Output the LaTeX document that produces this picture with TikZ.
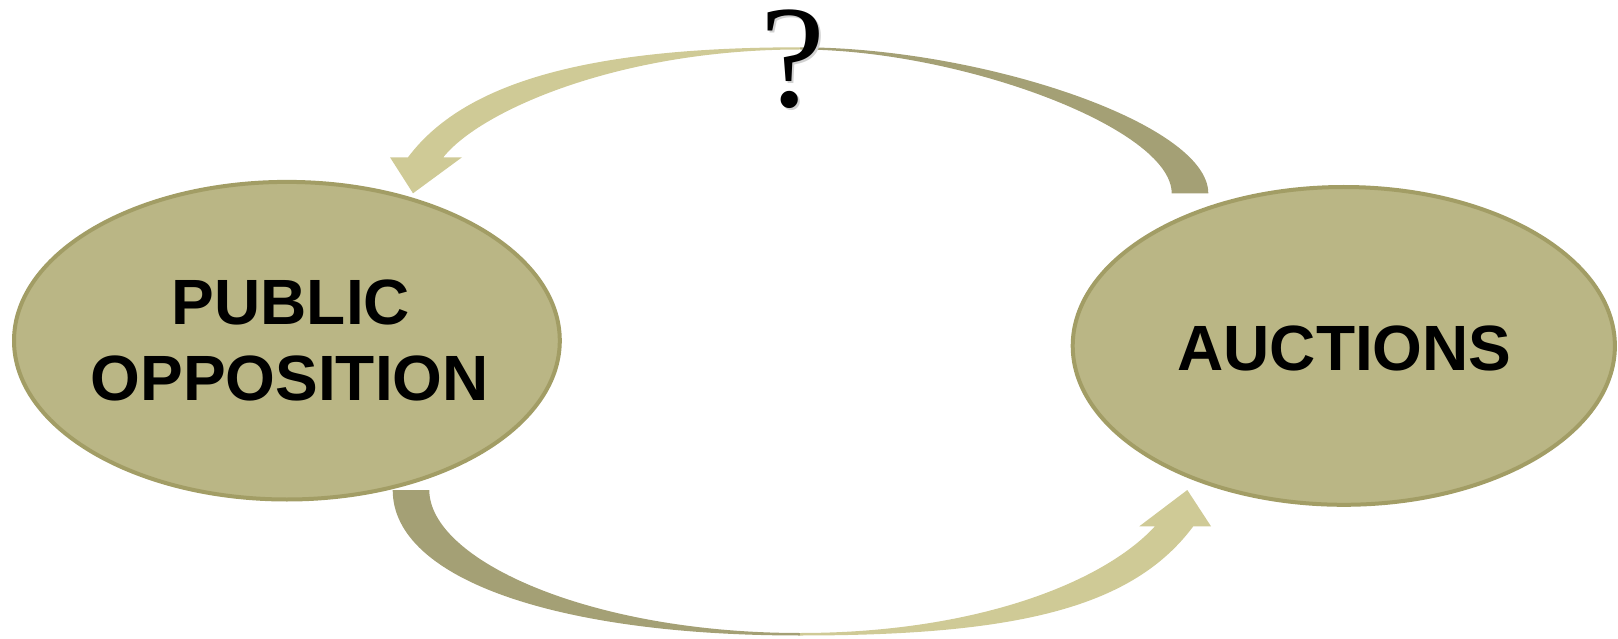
\documentclass[tikz,border=0pt]{standalone}
\usepackage{fontspec}
\setmainfont{Liberation Serif}
\newfontfamily\lsans{Liberation Sans}
\usetikzlibrary{shapes.geometric}
\definecolor{banddark}{RGB}{164,160,117}
\definecolor{bandlight}{RGB}{207,202,150}
\definecolor{bubblefill}{RGB}{186,182,133}
\definecolor{bubbleline}{RGB}{162,157,101}
\tikzset{
  bubble/.style={ellipse, draw=bubbleline, fill=bubblefill, line width=4pt, inner sep=0pt},
  lbl/.style={anchor=base, inner sep=0pt, font=\lsans\bfseries\fontsize{64}{76}\selectfont},
  darkband/.style={fill=banddark, draw=none},
  lightband/.style={fill=bandlight, draw=none},
  qmark/.style={anchor=base, inner sep=0pt, font=\fontsize{146}{150}\selectfont},
}
\begin{document}
\begin{tikzpicture}[x=1pt, y=-1pt]
\useasboundingbox (0,0) rectangle (1618,639);
% top arrow (from AUCTIONS to PUBLIC OPPOSITION)
\path[darkband] (1208.3,193.3) .. controls (1208.3,123.3) and (980,47.3) .. (800,47.3)
  -- (800,49.5) .. controls (960,49.5) and (1171.7,128.3) .. (1171.7,193.3) -- cycle;
\path[lightband] (800,47.3) .. controls (580,47.3) and (462,85.3) .. (408,157.3)
  -- (390,157.3) -- (413,193.3) -- (462,157.3) -- (443.3,157.3)
  .. controls (480.5,110.5) and (620,49.5) .. (800,49.5) -- cycle;
% bottom arrow (from PUBLIC OPPOSITION to AUCTIONS)
\path[darkband] (392.7,490) .. controls (392.7,580) and (560,635.5) .. (800,635.5)
  -- (800,633) .. controls (590,633) and (429.3,560) .. (429.3,490) -- cycle;
\path[lightband] (800,635.5) .. controls (1020,635.5) and (1133.3,606.7) .. (1193.3,526.3)
  -- (1211,526.3) -- (1187.3,490) -- (1139.3,526.3) -- (1155,526.3)
  .. controls (1100.6,585.1) and (970,633) .. (800,633) -- cycle;
% ellipses
\node[bubble, minimum width=545.8pt, minimum height=317.6pt] (po) at (286.9,340.7) {};
\node[bubble, minimum width=542.2pt, minimum height=317.8pt] (au) at (1343.8,345.9) {};
\node[lbl] (po1) at (291,324) {PUBLIC};
\node[lbl] (po2) at (289.7,400) {OPPOSITION};
\node[lbl] (aut) at (1344.5,370) {AUCTIONS};
% question mark with soft shadow
\node[qmark, text=black!18] (qs) at (794.8,108.5) {?};
\node[qmark] (q) at (793,107) {?};
\end{tikzpicture}
\end{document}
